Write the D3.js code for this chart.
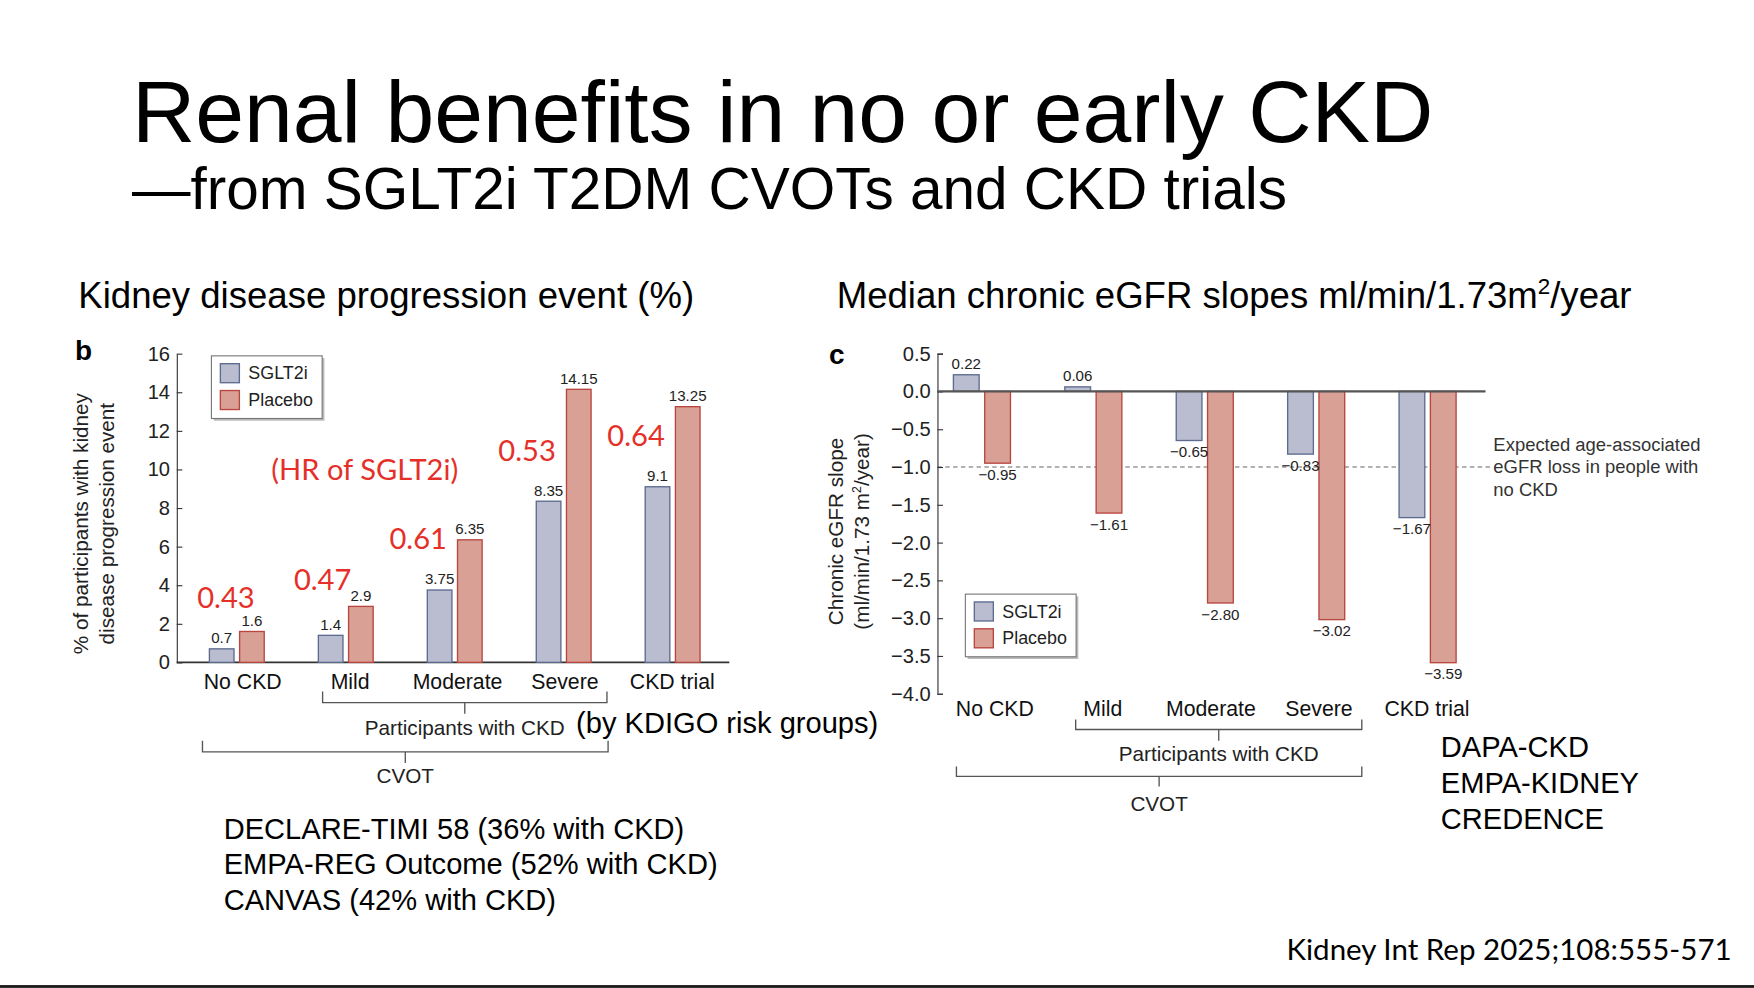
<!DOCTYPE html>
<html>
<head>
<meta charset="utf-8">
<script src="https://cdn.jsdelivr.net/npm/d3@7"></script>
<style>
  body { margin: 0; background: #fff; }
  svg { display: block; font-family: "Liberation Sans", Arial, sans-serif; }
</style>
</head>
<body>
<svg id="slide"></svg>
<script>
// groups shared by both panels
const categories = ['No CKD', 'Mild', 'Moderate', 'Severe', 'CKD trial'];
const seriesNames = ['SGLT2i', 'Placebo'];

// panel b: kidney disease progression event (%)
const eventSglt2i = [0.7, 1.4, 3.75, 8.35, 9.1];
const eventPlacebo = [1.6, 2.9, 6.35, 14.15, 13.25];
const hazardRatios = ['0.43', '0.47', '0.61', '0.53', '0.64'];
const eventTicks = [0, 2, 4, 6, 8, 10, 12, 14, 16];

// panel c: median chronic eGFR slope
const slopeSglt2i = [0.22, 0.06, -0.65, -0.83, -1.67];
const slopePlacebo = [-0.95, -1.61, -2.80, -3.02, -3.59];
const slopeTicks = [0.5, 0, -0.5, -1, -1.5, -2, -2.5, -3, -3.5, -4];
const expectedLoss = -1.0;

const cvotTrials = ['DECLARE-TIMI 58 (36% with CKD)', 'EMPA-REG Outcome (52% with CKD)', 'CANVAS (42% with CKD)'];
const ckdTrials = ['DAPA-CKD', 'EMPA-KIDNEY', 'CREDENCE'];

const colors = {
    sgltFill: '#b9bdcf', sgltStroke: '#5d6b8e',
    placFill: '#d9a096', placStroke: '#b9453f',
    red: '#e5302a', text: '#222'
};

// draw in the slide's own coordinates, scaled to the window
const svg = d3.select('#slide')
    .attr('width', 1754)
    .attr('height', 988)
    .attr('viewBox', '0 0 1568 883');

svg.append('rect').attr('width', 1568).attr('height', 883).attr('fill', '#fff');
svg.append('rect').attr('x', 0).attr('y', 880.5).attr('width', 1568).attr('height', 2.5).attr('fill', '#1a1a1a');

// titles
svg.append('text').attr('x', 118).attr('y', 127).attr('font-size', 78.4).attr('fill', '#000')
    .text('Renal benefits in no or early CKD');
svg.append('text').attr('x', 118).attr('y', 187).attr('font-size', 52.3).attr('fill', '#000')
    .text('\u2014from SGLT2i T2DM CVOTs and CKD trials');

svg.append('text').attr('x', 70).attr('y', 275).attr('font-size', 32.7).attr('fill', '#000')
    .text('Kidney disease progression event (%)');
const hdr = svg.append('text').attr('x', 748).attr('y', 275).attr('font-size', 32.7).attr('fill', '#000');
hdr.append('tspan').text('Median chronic eGFR slopes ml/min/1.73m');
hdr.append('tspan').attr('font-size', 20).attr('dy', -12).text('2');
hdr.append('tspan').attr('dy', 12).text('/year');

function legend(g, x, y) {
    g.append('rect').attr('x', x + 2).attr('y', y + 2).attr('width', 99).attr('height', 56)
        .attr('fill', '#bbb');
    g.append('rect').attr('x', x).attr('y', y).attr('width', 99).attr('height', 56)
        .attr('fill', '#fff').attr('stroke', '#777').attr('stroke-width', 1);
    seriesNames.forEach((name, i) => {
        g.append('rect').attr('x', x + 8).attr('y', y + 7 + i * 24).attr('width', 17).attr('height', 17)
            .attr('fill', i ? colors.placFill : colors.sgltFill)
            .attr('stroke', i ? colors.placStroke : colors.sgltStroke).attr('stroke-width', 1.2);
        g.append('text').attr('x', x + 33).attr('y', y + 21 + i * 24).attr('font-size', 16)
            .attr('fill', colors.text).text(name);
    });
}

function bracket(g, x0, x1, yTop, yLine, yTick, label, yLabel) {
    const mid = (x0 + x1) / 2;
    g.append('path')
        .attr('d', `M${x0},${yTop}V${yLine}H${x1}V${yTop}M${mid},${yLine}V${yTick}`)
        .attr('fill', 'none').attr('stroke', '#555').attr('stroke-width', 1.2);
    g.append('text').attr('x', mid).attr('y', yLabel).attr('text-anchor', 'middle')
        .attr('font-size', 18.5).attr('fill', colors.text).text(label);
}

function yTitle(g, x, y, lines) {
    lines.forEach((line, i) => {
        const t = g.append('text')
            .attr('transform', `translate(${x + i * 23},${y}) rotate(-90)`)
            .attr('text-anchor', 'middle').attr('font-size', 18.5).attr('fill', colors.text);
        line.forEach(part => {
            if (part.sup) t.append('tspan').attr('font-size', 11).attr('dy', -7).text(part.sup);
            else t.append('tspan').attr('dy', part.after ? 7 : 0).text(part.t);
        });
    });
}

// ---------- panel b ----------
const b = svg.append('g');

const xL = d3.scaleBand().domain(categories).range([163, 650]);
const yL = d3.scaleLinear().domain([0, 16]).range([592, 316]);
const cL = c => xL(c) + xL.bandwidth() / 2;
// category names sit on a slightly tighter spacing than the bars
const xLabL = d3.scaleBand().domain(categories).range([169, 649]);

b.append('text').attr('x', 67).attr('y', 322).attr('font-size', 25).attr('font-weight', 'bold').text('b');

const yAxisL = b.append('g').attr('transform', 'translate(158,0)')
    .call(d3.axisLeft(yL).tickValues(eventTicks).tickSizeInner(-5).tickSizeOuter(0).tickPadding(6));
yAxisL.selectAll('text').attr('font-size', 18).attr('font-family', 'Liberation Sans, Arial').attr('fill', colors.text);
yAxisL.selectAll('line, path').attr('stroke', '#333');

b.append('line').attr('x1', 158).attr('x2', 652).attr('y1', yL(0)).attr('y2', yL(0))
    .attr('stroke', '#333').attr('stroke-width', 1.6);

const groupsL = categories.map((c, i) => ({ c, s: eventSglt2i[i], p: eventPlacebo[i], hr: hazardRatios[i] }));

b.selectAll('.bar-s').data(groupsL).enter().append('rect')
    .attr('x', d => cL(d.c) - 24.5).attr('width', 22)
    .attr('y', d => yL(d.s)).attr('height', d => yL(0) - yL(d.s))
    .attr('fill', colors.sgltFill).attr('stroke', colors.sgltStroke).attr('stroke-width', 1.2);
b.selectAll('.bar-p').data(groupsL).enter().append('rect')
    .attr('x', d => cL(d.c) + 2.5).attr('width', 22)
    .attr('y', d => yL(d.p)).attr('height', d => yL(0) - yL(d.p))
    .attr('fill', colors.placFill).attr('stroke', colors.placStroke).attr('stroke-width', 1.2);

b.selectAll('.lab-s').data(groupsL).enter().append('text')
    .attr('x', d => cL(d.c) - 13.5).attr('y', d => yL(d.s) - 5)
    .attr('text-anchor', 'middle').attr('font-size', 13.5).attr('fill', colors.text).text(d => d.s);
b.selectAll('.lab-p').data(groupsL).enter().append('text')
    .attr('x', d => cL(d.c) + 13.5).attr('y', d => yL(d.p) - 5)
    .attr('text-anchor', 'middle').attr('font-size', 13.5).attr('fill', colors.text).text(d => d.p);

// hazard ratio annotations, nudged where the bars are short
const hrNudgeX = [23, 12, 0, 0, 0];
const hrNudgeY = [0, 0.25, 0, 0, 0];
b.selectAll('.hr').data(groupsL).enter().append('text')
    .attr('x', (d, i) => cL(d.c) - 7 + hrNudgeX[i]).attr('y', (d, i) => yL(d.s + 2.1 + hrNudgeY[i]))
    .attr('text-anchor', 'end').attr('font-family', 'Lato, sans-serif').attr('font-size', 26)
    .attr('fill', colors.red).text(d => d.hr);
b.append('text').attr('x', cL('Mild') + 17).attr('y', yL(9.45)).attr('text-anchor', 'middle')
    .attr('font-family', 'Lato, sans-serif').attr('font-size', 26).attr('fill', colors.red)
    .text('(HR of SGLT2i)');

b.selectAll('.cat').data(categories).enter().append('text')
    .attr('x', c => xLabL(c) + xLabL.bandwidth() / 2).attr('y', 616).attr('text-anchor', 'middle')
    .attr('font-size', 19).attr('fill', '#111').text(c => c);

legend(b, 189, 318);

yTitle(b, 79, 468, [
    [{ t: '% of participants with kidney' }],
    [{ t: 'disease progression event' }]
]);

bracket(b, xL('Mild') + 28, xL('Severe') + xL.bandwidth() - 10, 618, 628, 638, 'Participants with CKD', 657);
bracket(b, xL('No CKD') + 18, xL('Severe') + xL.bandwidth() - 9, 662, 672, 682, 'CVOT', 700);
b.append('text').attr('x', 515).attr('y', 655).attr('font-size', 26).attr('fill', '#000')
    .text('(by KDIGO risk groups)');

b.selectAll('.cvot').data(cvotTrials).enter().append('text')
    .attr('x', 200).attr('y', (d, i) => 750 + i * 31.5).attr('font-size', 26).attr('fill', '#000')
    .text(d => d);

// ---------- panel c ----------
const c = svg.append('g');

const xR = d3.scaleBand().domain(categories).range([828, 1326]);
const yR = d3.scaleLinear().domain([-4, 0.5]).range([620, 316]);
const cR = k => xR(k) + xR.bandwidth() / 2;
const xLabR = d3.scaleBand().domain(categories).range([841, 1324]);

c.append('text').attr('x', 741).attr('y', 325).attr('font-size', 25).attr('font-weight', 'bold').text('c');

c.append('line').attr('x1', 838).attr('x2', 1332).attr('y1', yR(expectedLoss)).attr('y2', yR(expectedLoss))
    .attr('stroke', '#666').attr('stroke-width', 1).attr('stroke-dasharray', '4,3');
const note = c.append('text').attr('x', 1335).attr('y', 403).attr('font-size', 16.5).attr('fill', '#333');
['Expected age-associated', 'eGFR loss in people with', 'no CKD'].forEach((l, i) =>
    note.append('tspan').attr('x', 1335).attr('dy', i ? 20 : 0).text(l));

const yAxisR = c.append('g').attr('transform', 'translate(838,0)')
    .call(d3.axisLeft(yR).tickValues(slopeTicks).tickFormat(d3.format('.1f'))
        .tickSizeInner(-5).tickSizeOuter(-5).tickPadding(6));
yAxisR.selectAll('text').attr('font-size', 18).attr('font-family', 'Liberation Sans, Arial').attr('fill', colors.text);
yAxisR.selectAll('line, path').attr('stroke', '#333');

const groupsR = categories.map((k, i) => ({ c: k, s: slopeSglt2i[i], p: slopePlacebo[i] }));
const fmt = d3.format('.2f');

const barR = (sel, key, dx, fill, stroke) => sel.data(groupsR).enter().append('rect')
    .attr('x', d => cR(d.c) + dx).attr('width', 23)
    .attr('y', d => yR(Math.max(0, d[key]))).attr('height', d => Math.abs(yR(d[key]) - yR(0)))
    .attr('fill', fill).attr('stroke', stroke).attr('stroke-width', 1.2);
barR(c.selectAll('.rs'), 's', -25.5, colors.sgltFill, colors.sgltStroke);
barR(c.selectAll('.rp'), 'p', 2.5, colors.placFill, colors.placStroke);

c.append('line').attr('x1', 838).attr('x2', 1328).attr('y1', yR(0)).attr('y2', yR(0))
    .attr('stroke', '#555').attr('stroke-width', 2);

const labR = (sel, key, dx) => sel.data(groupsR).enter().append('text')
    .attr('x', d => cR(d.c) + dx)
    .attr('y', d => d[key] >= 0 ? yR(d[key]) - 5 : yR(d[key]) + 15)
    .attr('text-anchor', 'middle').attr('font-size', 13.5).attr('fill', colors.text)
    .text(d => fmt(d[key]));
labR(c.selectAll('.ls'), 's', -14);
labR(c.selectAll('.lp'), 'p', 14);

c.selectAll('.cat').data(categories).enter().append('text')
    .attr('x', k => xLabR(k) + xLabR.bandwidth() / 2).attr('y', 640).attr('text-anchor', 'middle')
    .attr('font-size', 19).attr('fill', '#111').text(k => k);

legend(c, 863, 531);

yTitle(c, 754, 475, [
    [{ t: 'Chronic eGFR slope' }],
    [{ t: '(ml/min/1.73 m' }, { sup: '2' }, { t: '/year)', after: true }]
]);

bracket(c, xR('Mild') + 34, xR('Severe') + xR.bandwidth() - 9, 643, 652, 662, 'Participants with CKD', 680);
bracket(c, xR('No CKD') + 27, xR('Severe') + xR.bandwidth() - 9, 685, 694, 703, 'CVOT', 725);

c.selectAll('.ckd').data(ckdTrials).enter().append('text')
    .attr('x', 1288).attr('y', (d, i) => 677 + i * 32).attr('font-size', 26).attr('fill', '#000')
    .text(d => d);

svg.append('text').attr('x', 1548).attr('y', 858).attr('text-anchor', 'end')
    .attr('font-family', 'Lato, sans-serif').attr('font-size', 26.4).attr('fill', '#000')
    .text('Kidney Int Rep 2025;108:555-571');
</script>
</body>
</html>
